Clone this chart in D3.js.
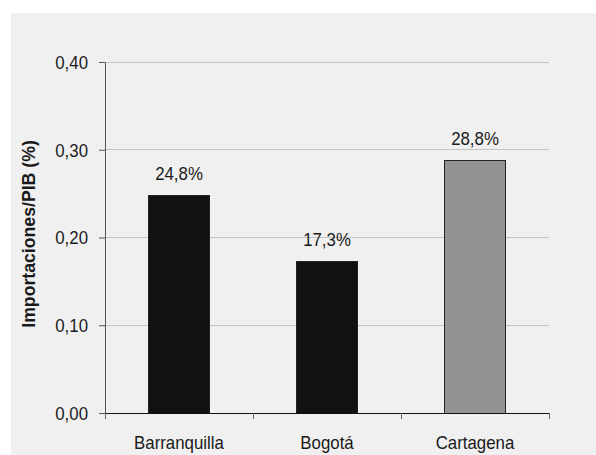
<!DOCTYPE html>
<html><head><meta charset="utf-8">
<script src="https://cdn.jsdelivr.net/npm/d3@7"></script>
<style>body{margin:0;background:#fff;}svg{display:block;}text{font-family:"Liberation Sans",Arial,sans-serif;fill:#1a1a1a;}</style>
</head><body><svg id="c" width="596" height="455"></svg>
<script>
const categories = ["Barranquilla", "Bogotá", "Cartagena"];
const values = [0.248, 0.173, 0.288];
const valueLabels = ["24,8%", "17,3%", "28,8%"];
const yTicks = [0, 0.1, 0.2, 0.3, 0.4];
const barColors = ["#111111", "#111111", "#939393"];
const yTitle = "Importaciones/PIB (%)";

(function () {
const svg = d3.select("#c");
svg.append("rect").attr("x", 11).attr("y", 13).attr("width", 585).attr("height", 442).attr("fill", "#f0f0f0");

const FS = 18.5, SQ = 0.91;
const mL = 105, mR = 549, mT = 62, mB = 413;
const x = d3.scaleBand().domain(categories).range([mL, mR]).paddingInner(0.59).paddingOuter(0.295);
const y = d3.scaleLinear().domain([0, 0.4]).range([mB, mT]);
const fmt = d => d3.format(".2f")(d).replace(".", ",");

// gridlines
svg.append("g").selectAll("line").data(yTicks.filter(d => d > 0)).join("line")
  .attr("x1", mL).attr("x2", mR).attr("y1", d => y(d)).attr("y2", d => y(d))
  .attr("stroke", "#c4c4c4").attr("stroke-width", 1).attr("shape-rendering", "crispEdges");

// bars
svg.append("g").selectAll("rect").data(values).join("rect")
  .attr("x", (d, i) => x(categories[i])).attr("width", x.bandwidth())
  .attr("y", d => y(d)).attr("height", d => y(0) - y(d))
  .attr("fill", (d, i) => barColors[i]).attr("stroke", "#222").attr("stroke-width", 1)
  .attr("shape-rendering", "crispEdges");

// value labels
svg.append("g").selectAll("text").data(values).join("text")
  .attr("class", "sq")
  .attr("x", (d, i) => x(categories[i]) + x.bandwidth() / 2).attr("y", d => y(d) - 15)
  .attr("text-anchor", "middle").attr("font-size", FS).text((d, i) => valueLabels[i]);

// y axis
const ya = svg.append("g").attr("transform", `translate(${mL},0)`)
  .call(d3.axisLeft(y).tickValues(yTicks).tickFormat(fmt).tickSize(6).tickPadding(11).tickSizeOuter(0));
ya.select(".domain").attr("stroke", "#555");
ya.selectAll(".tick line").attr("stroke", "#555");
ya.selectAll("text").attr("class", "sq").attr("font-size", FS).attr("fill", "#1a1a1a")
  .attr("font-family", '"Liberation Sans",Arial,sans-serif').attr("dy", "0.34em");

// x axis
const xBoundaries = [mL, ...categories.slice(1).map(c => x(c) - x.step() * x.paddingInner() / 2), mR];
const xa = svg.append("g").attr("transform", `translate(0,${mB})`);
xa.append("line").attr("x1", mL).attr("x2", mR).attr("stroke", "#111").attr("shape-rendering", "crispEdges");
xa.selectAll(".tk").data(xBoundaries).join("line").attr("class", "tk")
  .attr("x1", d => d).attr("x2", d => d).attr("y1", 0).attr("y2", 6).attr("stroke", "#666").attr("shape-rendering", "crispEdges");
xa.selectAll("text").data(categories).join("text").attr("class", "sq")
  .attr("x", d => x(d) + x.bandwidth() / 2).attr("y", 36)
  .attr("text-anchor", "middle").attr("font-size", FS).text(d => d);

// condense glyphs horizontally (reference font is narrow)
svg.selectAll("text.sq").each(function () {
  const len = this.getComputedTextLength();
  d3.select(this).attr("textLength", len * SQ).attr("lengthAdjust", "spacingAndGlyphs");
});

// y title
const t = svg.append("text").attr("transform", `translate(35,234) rotate(-90)`)
  .attr("text-anchor", "middle").attr("font-size", 19).attr("font-weight", "bold").text(yTitle);
t.attr("textLength", t.node().getComputedTextLength() * 0.93).attr("lengthAdjust", "spacingAndGlyphs");
})();
</script></body></html>
